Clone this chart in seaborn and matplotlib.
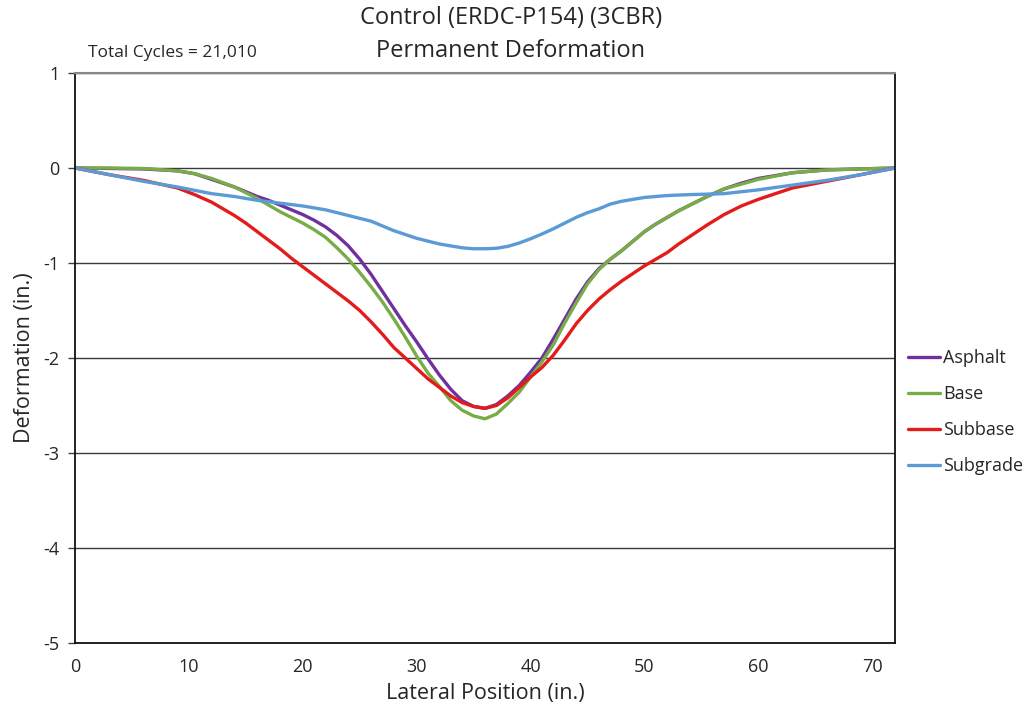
import numpy as np
import pandas as pd
import matplotlib
matplotlib.use("Agg")
import matplotlib.pyplot as plt
import seaborn as sns

# ---- data ----
position = [0, 3, 6, 9, 10.5, 12, 14, 15, 16, 17, 18, 19, 20, 21, 22, 23, 24,
            25, 26, 27, 28, 29, 30, 31, 32, 33, 34, 35, 36, 37, 38, 39, 40,
            41, 42, 43, 44, 45, 46, 47, 48, 49, 50, 51, 52, 53, 54, 55.5, 57,
            58.5, 60, 63, 66, 69, 72]
asphalt = [0, -0.005, -0.01, -0.03, -0.06, -0.12, -0.20, -0.25, -0.30, -0.34,
           -0.39, -0.44, -0.49, -0.55, -0.62, -0.71, -0.82, -0.96, -1.12,
           -1.30, -1.48, -1.66, -1.83, -2.01, -2.18, -2.33, -2.45, -2.51,
           -2.53, -2.49, -2.40, -2.29, -2.15, -2.00, -1.80, -1.59, -1.38,
           -1.20, -1.06, -0.96, -0.87, -0.77, -0.67, -0.59, -0.52, -0.45,
           -0.39, -0.30, -0.22, -0.16, -0.11, -0.05, -0.02, -0.01, 0]
base = [0, 0, -0.005, -0.03, -0.06, -0.11, -0.20, -0.26, -0.32, -0.39, -0.46,
        -0.52, -0.58, -0.65, -0.73, -0.84, -0.96, -1.10, -1.25, -1.41, -1.59,
        -1.78, -1.98, -2.16, -2.30, -2.45, -2.55, -2.61, -2.64, -2.59, -2.48,
        -2.36, -2.20, -2.04, -1.86, -1.63, -1.42, -1.22, -1.07, -0.96, -0.87,
        -0.77, -0.67, -0.59, -0.52, -0.45, -0.39, -0.30, -0.22, -0.17, -0.12,
        -0.05, -0.02, -0.01, 0]
subbase = [0, -0.07, -0.13, -0.21, -0.28, -0.36, -0.50, -0.58, -0.67, -0.76,
           -0.85, -0.95, -1.04, -1.13, -1.22, -1.31, -1.40, -1.50, -1.62,
           -1.75, -1.89, -2.00, -2.11, -2.22, -2.31, -2.40, -2.47, -2.51,
           -2.53, -2.50, -2.42, -2.31, -2.20, -2.10, -1.97, -1.81, -1.64,
           -1.50, -1.38, -1.28, -1.19, -1.11, -1.03, -0.96, -0.89, -0.80,
           -0.72, -0.60, -0.49, -0.40, -0.33, -0.21, -0.14, -0.07, 0]
subgrade = [0, -0.07, -0.14, -0.20, -0.235, -0.27, -0.30, -0.32, -0.34, -0.355,
            -0.37, -0.385, -0.40, -0.42, -0.44, -0.47, -0.50, -0.53, -0.56,
            -0.61, -0.66, -0.70, -0.74, -0.77, -0.80, -0.82, -0.84, -0.85,
            -0.85, -0.845, -0.825, -0.79, -0.745, -0.695, -0.64, -0.58, -0.52,
            -0.47, -0.43, -0.38, -0.35, -0.33, -0.31, -0.30, -0.29, -0.285,
            -0.28, -0.275, -0.27, -0.25, -0.23, -0.18, -0.13, -0.07, 0]
series_names = ["Asphalt", "Base", "Subbase", "Subgrade"]
colors = ["#7030A0", "#77AC46", "#E41B1B", "#5B9BD5"]
x_ticks = [0, 10, 20, 30, 40, 50, 60, 70]
y_ticks = [1, 0, -1, -2, -3, -4, -5]

df = pd.concat([
    pd.DataFrame({"Lateral": position, "Deformation": vals, "Layer": name})
    for name, vals in zip(series_names, [asphalt, base, subbase, subgrade])
], ignore_index=True)

sns.set_theme(style="white")
plt.rcParams["font.family"] = ["Open Sans", "DejaVu Sans"]

fig = plt.figure(figsize=(10.31, 7.21), dpi=100)
ax = fig.add_axes([75 / 1031, 1 - 643 / 721, (895 - 75) / 1031, (643 - 73) / 721])

sns.lineplot(data=df, x="Lateral", y="Deformation", hue="Layer",
             hue_order=series_names, palette=colors, linewidth=2.4,
             sort=False, estimator=None, ax=ax)
for ln in ax.get_lines():
    ln.set_solid_joinstyle("round")

ax.set_xlim(0, 72)
ax.set_ylim(-5, 1)
ax.set_xticks(x_ticks)
ax.set_yticks(y_ticks)
ax.set_xticklabels([str(t) for t in x_ticks], fontsize=13)
ax.set_yticklabels([str(t) for t in y_ticks], fontsize=13)
ax.tick_params(axis="x", direction="inout", length=9, width=1, color="#404040", pad=6)
ax.tick_params(axis="y", direction="out", length=5, width=1, color="#404040", pad=6, left=True)
ax.yaxis.grid(True, color="#3a3a3a", linewidth=1)
ax.xaxis.grid(False)
ax.set_axisbelow(True)

for s in ["left", "bottom", "right"]:
    ax.spines[s].set_color("#111111")
    ax.spines[s].set_linewidth(1.3)
ax.spines["top"].set_color("#888888")
ax.spines["top"].set_linewidth(1.5)

ax.set_xlabel("Lateral Position (in.)", fontsize=15.5, labelpad=5)
ax.set_ylabel("Deformation (in.)", fontsize=15.5, labelpad=6)

fig.text(511 / 1031, 1 - 18 / 721, "Control (ERDC-P154) (3CBR)", fontsize=17,
         ha="center", va="center")
fig.text(511 / 1031, 1 - 51 / 721, "Permanent Deformation", fontsize=17,
         ha="center", va="center")
fig.text(88 / 1031, 1 - 53 / 721, "Total Cycles = 21,010", fontsize=12.5,
         ha="left", va="center")

leg = ax.legend(loc="center left", bbox_to_anchor=(1.0, 0.405), frameon=False,
                fontsize=13, handlelength=1.8, handletextpad=0.15,
                labelspacing=1.0, borderaxespad=0.3)
for line in leg.get_lines():
    line.set_linewidth(2.4)

fig.savefig("out.png", dpi=100)
